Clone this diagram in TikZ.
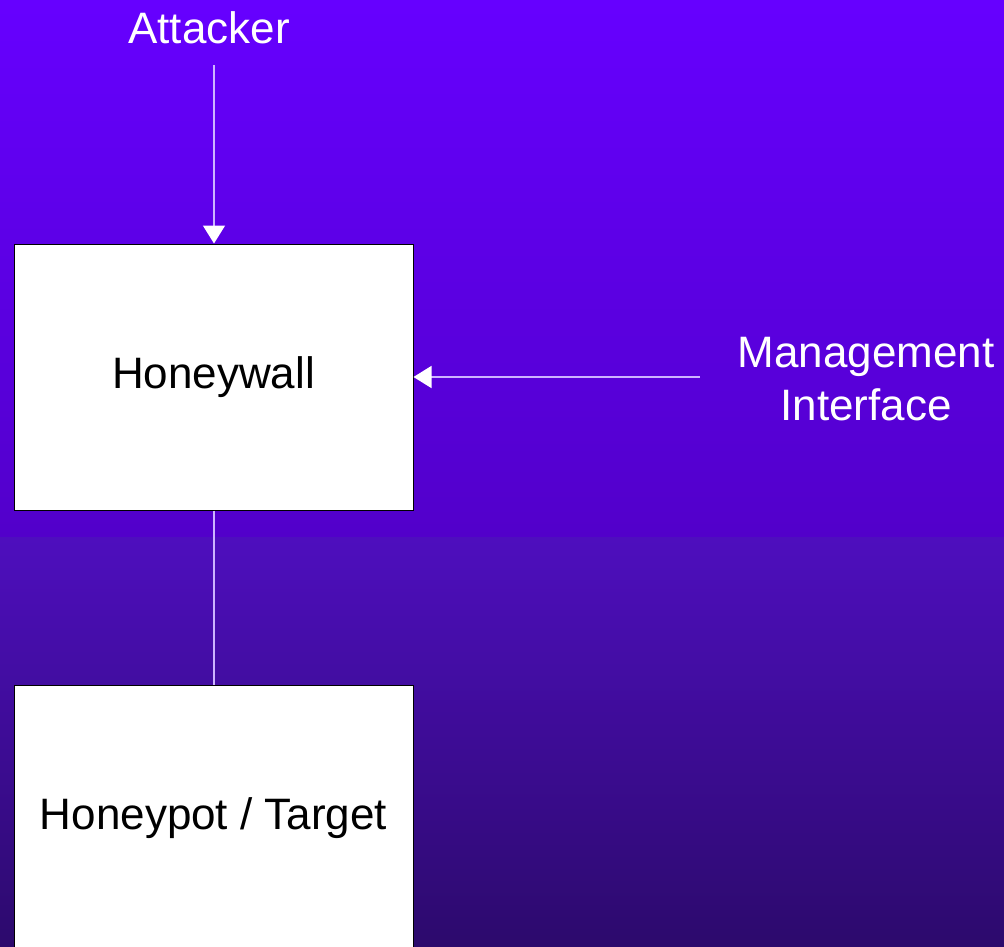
\documentclass[tikz,border=0pt]{standalone}
\usepackage{fontspec}
\setmainfont{Liberation Sans}
\usetikzlibrary{positioning,arrows}
\usetikzlibrary{arrows.meta}

\definecolor{bgtop}{RGB}{102,0,255}
\definecolor{bgmid}{RGB}{82,0,202}
\definecolor{bgmidlow}{RGB}{78,14,190}
\definecolor{bgbottom}{RGB}{44,10,108}
\definecolor{wire}{RGB}{205,180,255}

\tikzset{
  hbox/.style={draw=black, line width=1pt, fill=white, minimum width=399pt, minimum height=266pt, inner sep=0pt, text=black},
  label/.style={text=white, align=center, inner sep=0pt},
  link/.style={color=wire, line width=1.5pt},
  arr/.style={link, -{Triangle[width=22pt,length=18pt,color=white]}}
}

\begin{document}
\begin{tikzpicture}[x=1pt, y=-1pt, font=\fontsize{44}{53}\selectfont]

    \useasboundingbox (0,0) rectangle (1004,947);
    \shade[top color=bgtop, bottom color=bgmid] (0,0) rectangle (1004,537);
    \shade[top color=bgmidlow, bottom color=bgbottom] (0,537) rectangle (1004,947);

    \node[label] (attacker) at (209,28) {Attacker};
    \coordinate (attend) at (214,65);

    \node[hbox] (wall) at (213.5,377) {Honeywall};

    \node[label] (mgmt) at (866,379) {Management\\Interface};
    \coordinate (mgmtend) at (700,377);

    \node[hbox] (pot) at (213.5,818) {Honeypot / Target};

   \draw[arr] (attend) -- (attend |- wall.north);
   \draw[arr] (mgmtend) -- (wall.east |- mgmtend);
   \draw[link] (wall.south -| attend) -- (pot.north -| attend);

\end{tikzpicture}
\end{document}
